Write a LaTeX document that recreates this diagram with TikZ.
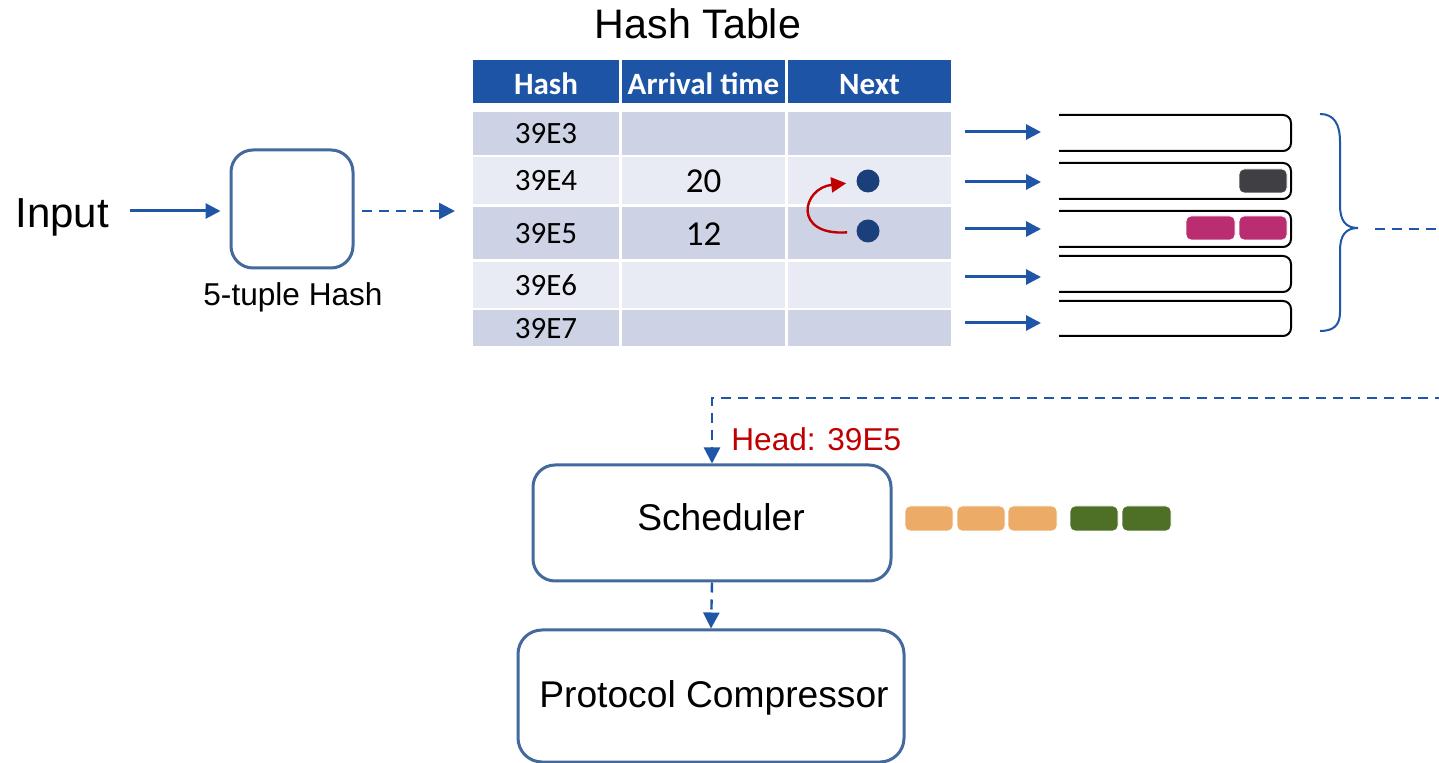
\documentclass[tikz,border=0pt]{standalone}
\usepackage{fontspec}
\setmainfont{Liberation Sans}
\newfontfamily\calib{Carlito}
\usetikzlibrary{arrows.meta}
\definecolor{hdr}{HTML}{1E54A5}
\definecolor{rowA}{HTML}{CDD3E4}
\definecolor{rowB}{HTML}{E8EBF3}
\definecolor{arrc}{HTML}{1F56A8}
\definecolor{boxc}{HTML}{44699C}
\definecolor{dotc}{HTML}{1B3F7B}
\definecolor{redc}{HTML}{C00000}
\definecolor{pkgray}{HTML}{404044}
\definecolor{pkmag}{HTML}{BA2D70}
\definecolor{pkor}{HTML}{ECAB67}
\definecolor{pkgr}{HTML}{4E7026}
\newcommand\fsz[1]{\fontsize{#1}{#1}\selectfont}
\newcommand\tcell[7]{\node[cellbox, #6, minimum width={(#4-#2)*0.5pt}, minimum height={(#5-#3)*0.5pt}] (#1) at ({(#2+#4)/2},{(#3+#5)/2}) {#7};}
\tikzset{
  bluearrow/.style={draw=arrc, line width=1.5pt, -{Triangle[length=7.5pt,width=7.5pt]}},
  dasharrow/.style={draw=arrc, line width=1.2pt, dash pattern=on 5pt off 3.5pt, -{Triangle[length=8pt,width=8pt]}},
  roundbox/.style={draw=boxc, line width=1.5pt, rounded corners=11pt, inner sep=0pt, fill=white},
  cellbox/.style={inner sep=0pt, outer sep=0pt, font=\calib\fsz{15.5}, text height=10.5pt, text depth=0pt},
  hdrcell/.style={fill=hdr, text=white, font=\calib\bfseries\fsz{15.5}, text height=13.5pt},
  numcell/.style={font=\calib\fsz{17.5}, text height=12.5pt},
  qbar/.style={draw=black, line width=1pt, rounded corners=4pt},
  packet/.style={draw=white, line width=0.4pt, rounded corners=2.5pt},
}
\begin{document}
\begin{tikzpicture}[x=0.5pt,y=-0.5pt]
\clip (0,0) rectangle (1439,763);
\fill[white] (0,0) rectangle (1439,763);

% title
\node[anchor=base, font=\fsz{20.6}, inner sep=0pt] (title) at (698,39) {Hash Table};

% input and hash box
\node[anchor=base west, font=\fsz{21}, inner sep=0pt] (input) at (15,228) {Input};
\node[roundbox, minimum width=61pt, minimum height=59pt] (hash) at (292,209) {};
\node[anchor=base, font=\fsz{15.8}, inner sep=0pt] (hashlbl) at (293,306) {5-tuple Hash};
\coordinate (inA) at (130,211);
\draw[bluearrow, shorten >=4.5pt] (inA) -- (inA -| hash.west);
\coordinate (hA) at (362,211);
\coordinate (tA) at (455,211);
\draw[dasharrow] (hA) -- (tA);

% table
\tcell{h1}{473}{60}{619}{103}{hdrcell}{Hash}
\tcell{h2}{622}{60}{785}{103}{hdrcell}{Arrival time}
\tcell{h3}{788}{60}{951}{103}{hdrcell}{Next}
\tcell{a1}{473}{112}{619}{155}{fill=rowA}{39E3}
\tcell{b1}{622}{112}{785}{155}{fill=rowA}{}
\tcell{n1}{788}{112}{951}{155}{fill=rowA}{}
\tcell{a2}{473}{157}{619}{204}{fill=rowB}{39E4}
\tcell{b2}{622}{157}{785}{204}{fill=rowB,numcell}{20}
\tcell{n2}{788}{157}{951}{204}{fill=rowB}{}
\tcell{a3}{473}{207}{619}{259}{fill=rowA}{39E5}
\tcell{b3}{622}{207}{785}{259}{fill=rowA,numcell}{12}
\tcell{n3}{788}{207}{951}{259}{fill=rowA}{}
\tcell{a4}{473}{262}{619}{308}{fill=rowB}{39E6}
\tcell{b4}{622}{262}{785}{308}{fill=rowB}{}
\tcell{n4}{788}{262}{951}{308}{fill=rowB}{}
\tcell{a5}{473}{310}{619}{346}{fill=rowA}{39E7}
\tcell{b5}{622}{310}{785}{346}{fill=rowA}{}
\tcell{n5}{788}{310}{951}{346}{fill=rowA}{}

% next pointers
\node[circle, fill=dotc, minimum size=11.5pt, inner sep=0pt] (d1) at (868,181) {};
\node[circle, fill=dotc, minimum size=11.5pt, inner sep=0pt] (d2) at (868,231) {};
\draw[redc, line width=1.2pt, -{Triangle[length=7.5pt,width=7.5pt]}, shorten <=4.5pt, shorten >=5pt]
  (d2) .. controls (792,236) and (802,188) .. (d1);

% queue arrows and bars
\foreach \i/\ya/\yt/\yb in {1/132/115/151, 2/182/163/199, 3/229/211/247, 4/277/256/292, 5/323/301/336}{
  \coordinate (s\i) at (965,\ya);
  \coordinate (q\i) at (1059,\ya);
  \draw[bluearrow, shorten >=9pt] (s\i) -- (q\i);
  \draw[qbar] (1059,\yt) -- (1291,\yt) -- (1291,\yb) -- (1059,\yb);
}
\path[packet, fill=pkgray] (1239,169) rectangle (1287,193);
\path[packet, fill=pkmag] (1186,216) rectangle (1235,240);
\path[packet, fill=pkmag] (1239,216) rectangle (1287,240);

% brace
\draw[arrc, line width=1pt] (1320,114) .. controls (1334,114) and (1340,124) .. (1340,142)
  -- (1340,205) .. controls (1340,220) and (1345,228) .. (1358,228)
  .. controls (1345,228) and (1340,236) .. (1340,251)
  -- (1340,312) .. controls (1340,325) and (1334,331) .. (1320,331);
\coordinate (br) at (1375,229);
\coordinate (brend) at (1445,229);
\draw[arrc, line width=1.2pt, dash pattern=on 5pt off 3.5pt] (br) -- (brend);

% scheduler
\node[roundbox, minimum width=179pt, minimum height=58pt, font=\fsz{18.6}, text height=8pt, text depth=0pt] (sched) at (712,523) {\hspace*{9pt}Scheduler};
\coordinate (rt) at (1445,398);
\draw[dasharrow] (rt) -| (sched.north);
\node[anchor=base west, text=redc, font=\fsz{15.8}, inner sep=0pt] (head) at (731,451) {Head: 39E5};

\path[packet, fill=pkor] (905,506) rectangle (953,531);
\path[packet, fill=pkor] (957,506) rectangle (1005,531);
\path[packet, fill=pkor] (1008,506) rectangle (1057,531);
\path[packet, fill=pkgr] (1070,506) rectangle (1118,531);
\path[packet, fill=pkgr] (1122,506) rectangle (1171,531);

% protocol compressor
\node[roundbox, minimum width=193pt, minimum height=66pt, font=\fsz{18.6}, text height=11pt, text depth=0pt, rounded corners=12pt] (pc) at (711,696) {\hspace*{3pt}Protocol Compressor};
\draw[dasharrow] (sched.south) -- (pc.north);
\end{tikzpicture}
\end{document}
